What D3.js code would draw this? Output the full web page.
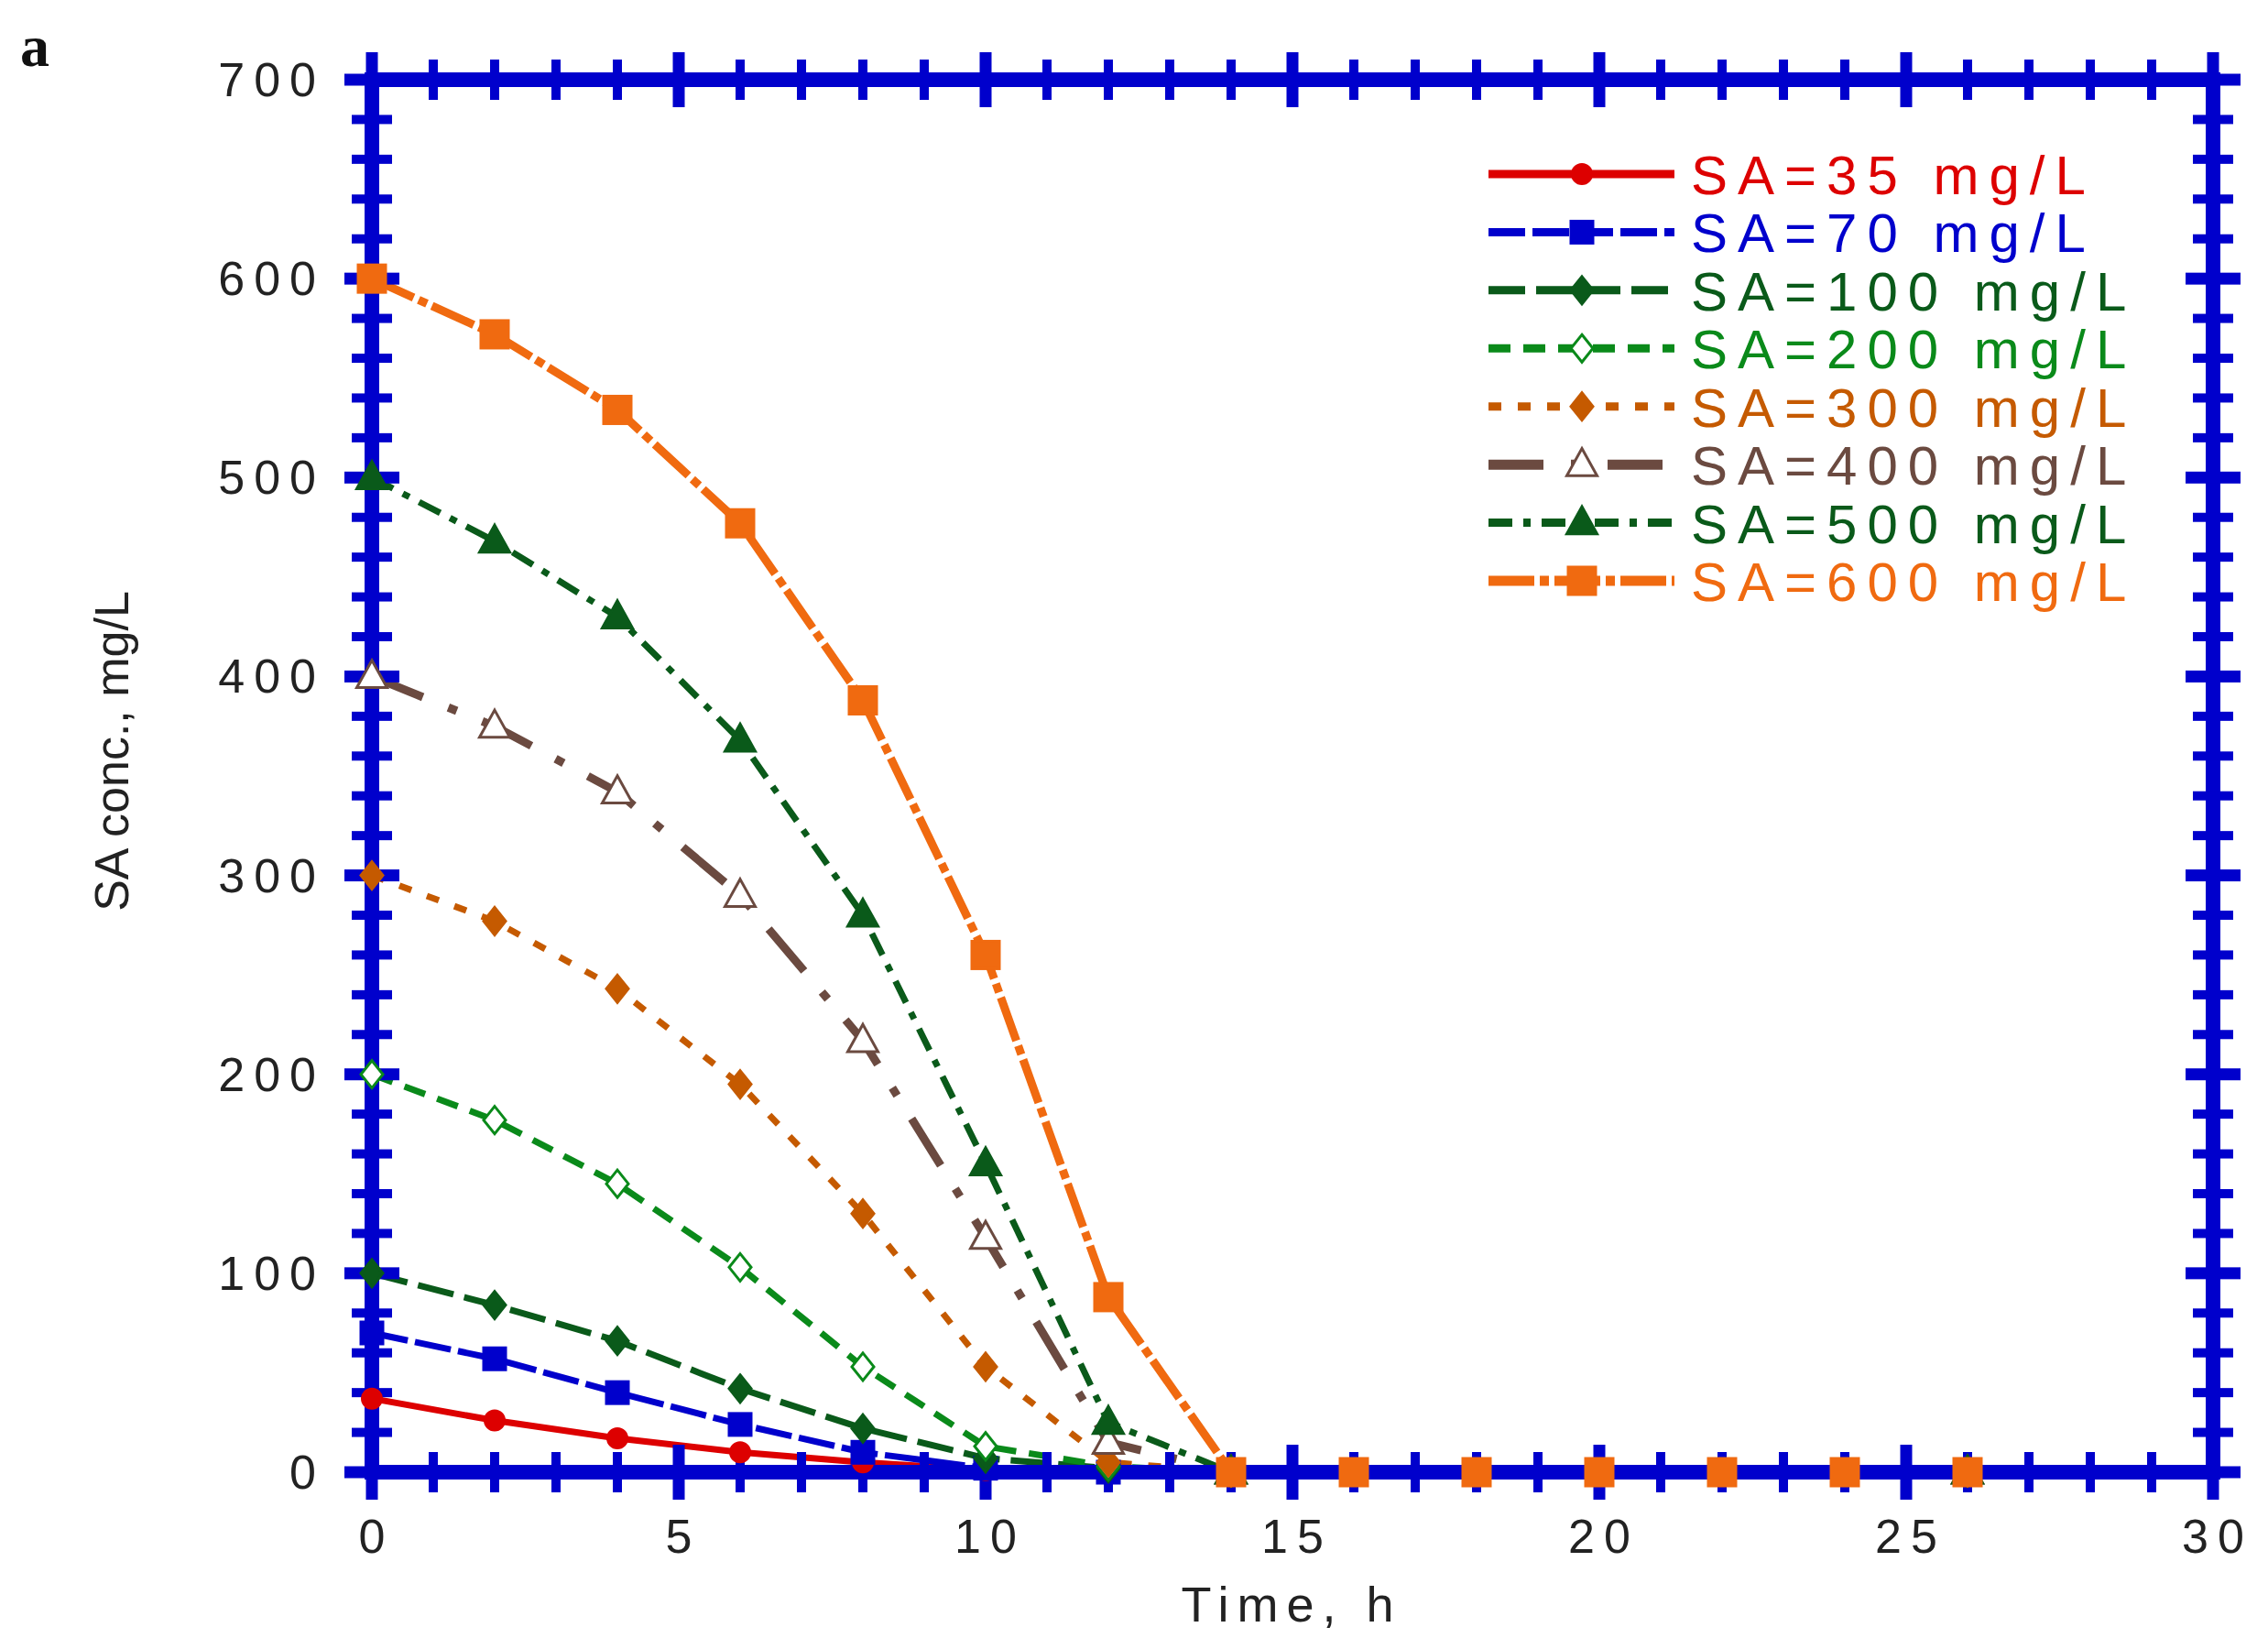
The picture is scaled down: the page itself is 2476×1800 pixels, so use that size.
<!DOCTYPE html>
<html><head><meta charset="utf-8">
<script src="https://cdn.jsdelivr.net/npm/d3@7"></script>
<style>body{margin:0;background:#fff}</style></head>
<body><svg id="c" width="2476" height="1800"></svg>
<script>
const times = [0,2,4,6,8,10,12,14,16,18,20,22,24,26];
const sa35  = [37,26,17,10,5,1,0,0,0,0,0,0,0,0];
const sa70  = [70,57,40,24,10,2,0,0,0,0,0,0,0,0];
const sa100 = [100,84,66,42,22,7,2,0,0,0,0,0,0,0];
const sa200 = [200,177,145,103,53,13,3,0,0,0,0,0,0,0];
const sa300 = [300,277,243,195,130,53,5,0,0,0,0,0,0,0];
const sa400 = [400,375,342,290,217,118,15,0,0,0,0,0,0,0];
const sa500 = [500,468,430,368,280,155,25,0,0,0,0,0,0,0];
const sa600 = [600,572,534,477,388,260,88,0,0,0,0,0,0,0];
const labels = ["SA=35 mg/L","SA=70 mg/L","SA=100 mg/L","SA=200 mg/L","SA=300 mg/L","SA=400 mg/L","SA=500 mg/L","SA=600 mg/L"];
const xTicks = [0,5,10,15,20,25,30];
const yTicks = [0,100,200,300,400,500,600,700];

const series = [
 {v:sa35, c:"#dd0000", dash:null, w:7, m:"circle", s:17, fill:true},
 {v:sa70, c:"#0000cc", dash:"40,8", w:7, m:"square", s:24, fill:true},
 {v:sa100,c:"#0a5a1a", dash:"40,12", w:7, m:"diamond", s:20, fill:true},
 {v:sa200,c:"#0a8a1a", dash:"24,14", w:7, m:"diamond", s:20, fill:false},
 {v:sa300,c:"#c55a00", dash:"14,18", w:7, m:"diamond", s:20, fill:true},
 {v:sa400,c:"#6b4a40", dash:"60,30,10,30", w:9, m:"triangle", s:22, fill:false},
 {v:sa500,c:"#0a5a1a", dash:"26,12,8,12", w:7, m:"triangle", s:22, fill:true},
 {v:sa600,c:"#f06a10", dash:"50,6,10,6", w:9, m:"square", s:30, fill:true}
];

const svg = d3.select("#c");
const x = d3.scaleLinear().domain([0,30]).range([406,2416]);
const y = d3.scaleLinear().domain([0,700]).range([1607,87]);
const font = "'Liberation Sans', Arial, sans-serif";

function marker(g, type, cx, cy, s, col, fill){
  const f = fill? col : "#fff";
  if(type==="circle") g.append("circle").attr("cx",cx).attr("cy",cy).attr("r",s/2+2).attr("fill",f).attr("stroke",col).attr("stroke-width",3);
  else if(type==="square") g.append("rect").attr("x",cx-s/2).attr("y",cy-s/2).attr("width",s).attr("height",s).attr("fill",f).attr("stroke",col).attr("stroke-width",3);
  else if(type==="diamond") g.append("path").attr("d",`M${cx},${cy-s*0.75}L${cx+s*0.6},${cy}L${cx},${cy+s*0.75}L${cx-s*0.6},${cy}Z`).attr("fill",f).attr("stroke",col).attr("stroke-width",3);
  else g.append("path").attr("d",`M${cx},${cy-s*0.8}L${cx+s*0.75},${cy+s*0.55}L${cx-s*0.75},${cy+s*0.55}Z`).attr("fill",f).attr("stroke",col).attr("stroke-width",3);
}

// series
const line = d3.line().x((d,i)=>x(times[i])).y(d=>y(d));
series.forEach(s=>{
  const p = svg.append("path").attr("d",line(s.v)).attr("fill","none").attr("stroke",s.c).attr("stroke-width",s.w);
  if(s.dash) p.attr("stroke-dasharray",s.dash);
});
// frame
const fw=16;
svg.append("rect").attr("x",x(0)).attr("y",y(700)).attr("width",x(30)-x(0)).attr("height",y(0)-y(700))
  .attr("fill","none").attr("stroke","#0000cc").attr("stroke-width",fw);
// ticks
const tg = svg.append("g").attr("fill","#0000cc");
d3.range(0,31,1).forEach(t=>{
  const major = t%5===0, L = major?22:14, W = major?13:10;
  [y(0),y(700)].forEach(yy=>{ tg.append("rect").attr("x",x(t)-W/2).attr("y",yy-fw/2-L).attr("width",W).attr("height",fw+2*L); });
});
d3.range(0,701,20).forEach(t=>{
  const major = t%100===0, L = major?22:14, W = major?13:10;
  [x(0),x(30)].forEach(xx=>{ tg.append("rect").attr("y",y(t)-W/2).attr("x",xx-fw/2-L).attr("height",W).attr("width",fw+2*L); });
});
// markers on top
series.forEach(s=>{
  const g = svg.append("g");
  s.v.forEach((d,i)=>{ if(d>0 || i===times.length-1 || s.v[i-1]>0 || s===series[7]) marker(g,s.m,x(times[i]),y(d),s.s,s.c,s.fill); });
});
// axis labels
const tick = {"font-family":font,"font-size":52,"letter-spacing":10,"fill":"#222"};
yTicks.forEach(t=>{
  const tx=svg.append("text").attr("x",355).attr("y",y(t)+18).attr("text-anchor","end").text(String(t));
  Object.entries(tick).forEach(([k,v])=>tx.attr(k,v));
});
xTicks.forEach(t=>{
  const tx=svg.append("text").attr("x",x(t)+5).attr("y",1695).attr("text-anchor","middle").text(String(t));
  Object.entries(tick).forEach(([k,v])=>tx.attr(k,v));
});
svg.append("text").attr("x",1410).attr("y",1770).attr("text-anchor","middle").attr("font-family",font)
  .attr("font-size",54).attr("letter-spacing",9).attr("fill","#222").text("Time, h");
svg.append("text").attr("transform","translate(140,820) rotate(-90)").attr("text-anchor","middle").attr("font-family",font)
  .attr("font-size",52).attr("fill","#222").text("SA conc., mg/L");
svg.append("text").attr("x",22).attr("y",72).attr("font-family","'Liberation Serif',serif").attr("font-weight","bold")
  .attr("font-size",64).attr("fill","#111").text("a");
// legend
const ly = d3.scaleLinear().domain([0,7]).range([190,634]);
series.forEach((s,i)=>{
  const yy = ly(i);
  const p = svg.append("line").attr("x1",1625).attr("x2",1828).attr("y1",yy).attr("y2",yy).attr("stroke",s.c).attr("stroke-width",s.w+2);
  if(s.dash) p.attr("stroke-dasharray",s.dash);
  marker(svg,s.m,1727,yy,s.s,s.c,s.fill);
  svg.append("text").attr("x",1846).attr("y",yy+22).attr("font-family",font).attr("font-size",60)
    .attr("letter-spacing",11).attr("fill",s.c).text(labels[i]);
});
</script></body></html>
